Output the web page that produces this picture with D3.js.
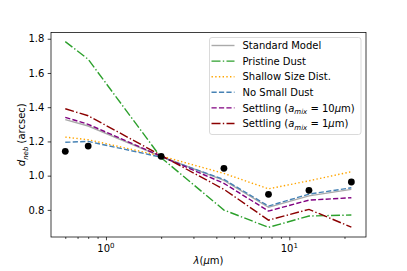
<!DOCTYPE html>
<html><head><meta charset="utf-8">
<script src="https://cdn.jsdelivr.net/npm/d3@7"></script>
<style>body{margin:0;background:#fff} svg{display:block} text{font-family:"DejaVu Sans",sans-serif;fill:#000}</style>
</head><body><svg id="c" width="407" height="271"></svg>
<script>
// ---- data ----
const wavelengths = [0.6, 0.8, 2.0, 4.4, 7.7, 12.8, 21.8];
const observed    = [1.142, 1.173, 1.113, 1.043, 0.891, 0.914, 0.963];
const standardModel = [1.327, 1.29, 1.112, 0.972, 0.815, 0.882, 0.920];
const pristineDust  = [1.783, 1.68, 1.105, 0.799, 0.698, 0.764, 0.770];
const shallowSize   = [1.225, 1.21, 1.115, 1.013, 0.923, 0.970, 1.023];
const noSmallDust   = [1.195, 1.20, 1.108, 0.978, 0.822, 0.892, 0.929];
const settling10    = [1.341, 1.30, 1.113, 0.955, 0.793, 0.857, 0.871];
const settling1     = [1.391, 1.35, 1.118, 0.920, 0.740, 0.803, 0.699];
const xMajorTicks = [1, 10];
const xMinorTicks = [0.6, 0.7, 0.8, 0.9, 2, 3, 4, 5, 6, 7, 8, 9, 20];
const yTicks = [0.8, 1.0, 1.2, 1.4, 1.6, 1.8];

const series = [
  {key:"std",  values: standardModel, color:"#aaaaaa", dash:null},
  {key:"pri",  values: pristineDust,  color:"#2ca02c", dash:"9,2.3,1.4,2.3"},
  {key:"sha",  values: shallowSize,   color:"#ffa500", dash:"1.4,2.3"},
  {key:"nos",  values: noSmallDust,   color:"#4682b4", dash:"5.2,2.25"},
  {key:"s10",  values: settling10,    color:"#800080", dash:"5.2,2.25"},
  {key:"s1",   values: settling1,     color:"#8b0000", dash:"9,2.3,1.4,2.3"}
];

const svg = d3.select("#c");
const L = 51, R = 366, T = 32.5, B = 237;
const x = d3.scaleLog().domain([0.5015, 26.2]).range([L, R]);
const y = d3.scaleLinear().domain([0.6415, 1.8365]).range([B, T]);

// lines
const line = d3.line().x((d,i)=>x(wavelengths[i])).y(d=>y(d));
const g = svg.append("g");
series.forEach(s=>{
  g.append("path").datum(s.values).attr("d", line)
    .attr("fill","none").attr("stroke", s.color).attr("stroke-width",1.4)
    .attr("stroke-dasharray", s.dash);
});
// observed points
g.selectAll("circle").data(observed).join("circle")
  .attr("cx",(d,i)=>x(wavelengths[i])).attr("cy",d=>y(d)).attr("r",3.4).attr("fill","#000");

// axes
const xAxis = d3.axisBottom(x).tickValues(xMajorTicks).tickSize(3.3).tickPadding(2.5).tickFormat(()=>"");
const xg = svg.append("g").attr("transform",`translate(0,${B})`).call(xAxis);
const xmg = svg.append("g").attr("transform",`translate(0,${B})`)
  .call(d3.axisBottom(x).tickValues(xMinorTicks).tickSize(1.9).tickFormat(()=>""));
xmg.select(".domain").remove();
xg.select(".domain").remove();
[xg,xmg].forEach(a=>a.selectAll("line").attr("stroke","#000").attr("stroke-width",0.75));
// custom major labels 10^k
xMajorTicks.forEach(v=>{
  const t = svg.append("text").attr("x", x(v)).attr("y", B+15).attr("text-anchor","middle").attr("font-size",10);
  t.append("tspan").text("10");
  t.append("tspan").attr("dy",-4).attr("font-size",7).text(String(Math.round(Math.log10(v))));
});

const yAxis = d3.axisLeft(y).tickValues(yTicks).tickSize(3.3).tickPadding(3.3).tickFormat(d3.format(".1f"));
const yg = svg.append("g").attr("transform",`translate(${L},0)`).call(yAxis);
yg.select(".domain").remove();
yg.selectAll("line").attr("stroke","#000").attr("stroke-width",0.75);
yg.selectAll("text").attr("font-size",10).attr("font-family","DejaVu Sans").attr("fill","#000");

// frame
svg.append("rect").attr("x",L).attr("y",T).attr("width",R-L).attr("height",B-T)
  .attr("fill","none").attr("stroke","#000").attr("stroke-width",0.75);

// axis labels
const xl = svg.append("text").attr("x",(L+R)/2).attr("y",264).attr("text-anchor","middle").attr("font-size",10);
xl.append("tspan").attr("font-style","italic").text("λ");
xl.append("tspan").text("(");
xl.append("tspan").attr("font-style","italic").text("μ");
xl.append("tspan").text("m)");

const yl = svg.append("text").attr("transform",`translate(25,${(T+B)/2}) rotate(-90)`)
  .attr("text-anchor","middle").attr("font-size",10);
yl.append("tspan").attr("font-style","italic").text("d");
yl.append("tspan").attr("font-style","italic").attr("font-size",7).attr("dy",2.5).text("neb");
yl.append("tspan").attr("dy",-2.5).text(" (arcsec)");

// legend
const legendLabels = ["Standard Model","Pristine Dust","Shallow Size Dist.","No Small Dust","Settling (amix = 10μm)","Settling (amix = 1μm)"];
const lg = svg.append("g");
lg.append("rect").attr("x",209.5).attr("y",37.5).attr("width",151.5).attr("height",97).attr("rx",2.5)
  .attr("fill","#fff").attr("fill-opacity",0.8).attr("stroke","#d0d0d0").attr("stroke-width",0.8);
const rowY0 = 45.5, rowDY = 15.6;
series.forEach((s,i)=>{
  const yy = rowY0 + i*rowDY;
  lg.append("line").attr("x1",211.5).attr("x2",234.5).attr("y1",yy).attr("y2",yy)
    .attr("stroke",s.color).attr("stroke-width",1.4).attr("stroke-dasharray",s.dash);
  const t = lg.append("text").attr("x",242.5).attr("y",yy+3.6).attr("font-size",10);
  const lab = legendLabels[i];
  if (lab.indexOf("amix")>=0) {
    const num = lab.match(/= (\d+)μm/)[1];
    t.append("tspan").text("Settling (");
    t.append("tspan").attr("font-style","italic").text("a");
    t.append("tspan").attr("font-style","italic").attr("font-size",7).attr("dy",2.5).text("mix");
    t.append("tspan").attr("dy",-2.5).text(" = " + num);
    t.append("tspan").attr("font-style","italic").text("μ");
    t.append("tspan").text("m)");
  } else {
    t.text(lab);
  }
});
</script></body></html>
